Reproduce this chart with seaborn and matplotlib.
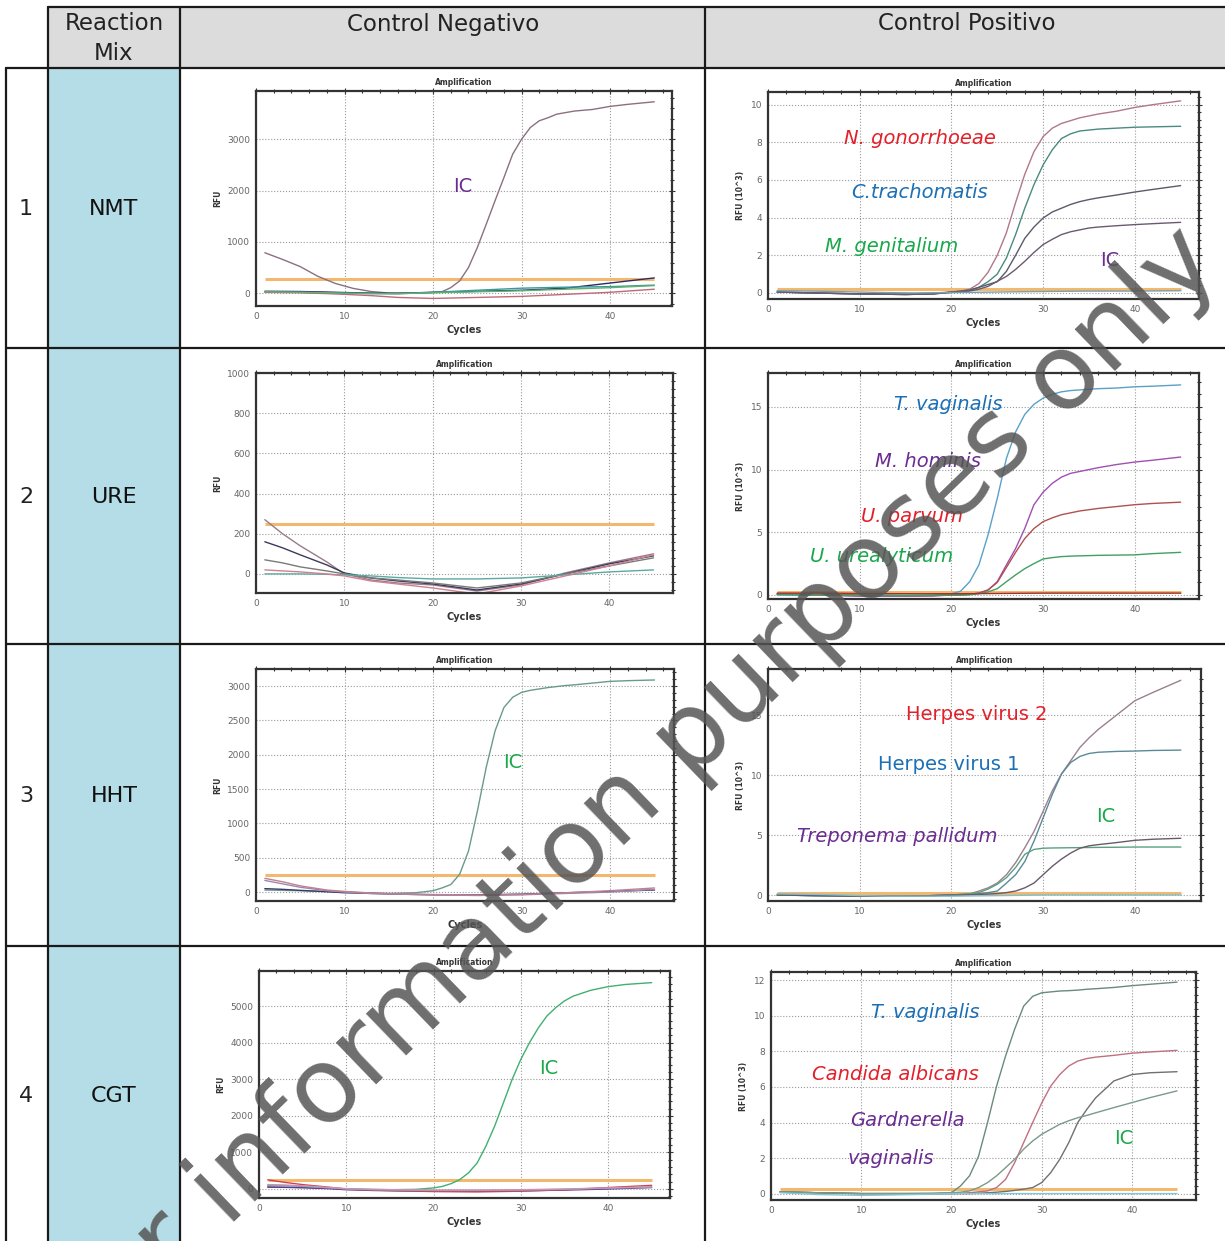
import matplotlib
matplotlib.use("Agg")
import matplotlib.pyplot as plt
from matplotlib.patches import Rectangle
from matplotlib.ticker import MultipleLocator, AutoMinorLocator
import pandas as pd
import seaborn as sns

# ---- data ----------------------------------------------------------------
# cycles for the amplifying curves and for the flat baseline curves
AMP_CYC = [1, 5, 10, 15, 18, 20, 21, 22, 23, 24, 25, 26, 27, 28, 29, 30,
           31, 32, 33, 34, 35, 36, 38, 40, 42, 45]
BASE_CYC = [1, 3, 5, 8, 10, 13, 16, 20, 25, 30, 35, 40, 45]

MIXES = ["NMT", "URE", "HHT", "CGT"]
ROW_NUMBERS = ["1", "2", "3", "4"]

# NMT negative control (RFU)
NMT_NEG_IC_CYC = [1, 3, 5, 7, 9, 11, 13, 15, 18, 20, 21, 22, 23, 24, 25, 26, 27, 28,
                  29, 30, 31, 32, 33, 34, 35, 36, 38, 40, 42, 45]
NMT_NEG_IC = [790, 660, 520, 330, 190, 95, 35, 5, 5, 15, 30, 110, 240, 500, 890, 1340,
              1800, 2250, 2710, 3000, 3230, 3360, 3420, 3490, 3520, 3550, 3580, 3640,
              3680, 3730]
NMT_NEG_B1 = [40, 38, 35, 25, 15, 5, 0, 20, 40, 60, 100, 200, 300]
NMT_NEG_B2 = [30, 25, 20, 10, 5, -5, -10, 20, 60, 100, 120, 130, 160]
NMT_NEG_B3 = [20, 15, 10, -5, -20, -45, -80, -100, -80, -60, -20, 20, 80]
NMT_NEG_B4 = [30, 25, 20, 10, 0, -5, -5, 10, 30, 50, 80, 110, 150]
NMT_NEG_THR = 270

# NMT positive control (RFU x 10^3)
NMT_POS_NG = [0.05, 0.0, -0.05, -0.05, 0.0, 0.05, 0.1, 0.2, 0.5, 1.1, 2.0, 3.2, 4.8,
              6.3, 7.5, 8.3, 8.75, 9.0, 9.15, 9.3, 9.4, 9.5, 9.65, 9.85, 10.0, 10.2]
NMT_POS_CT = [0.05, 0.0, -0.05, -0.08, -0.05, 0.05, 0.08, 0.15, 0.3, 0.6, 1.0, 1.86,
              3.1, 4.5, 5.75, 6.8, 7.6, 8.2, 8.45, 8.6, 8.65, 8.7, 8.75, 8.8, 8.82, 8.85]
NMT_POS_MG = [0.05, 0.0, -0.05, -0.08, -0.05, 0.05, 0.1, 0.15, 0.3, 0.45, 0.6, 1.15,
              2.0, 2.9, 3.5, 3.98, 4.3, 4.5, 4.7, 4.85, 4.96, 5.05, 5.2, 5.36, 5.5, 5.7]
NMT_POS_IC = [0.05, 0.0, -0.05, -0.08, -0.05, 0.03, 0.05, 0.1, 0.2, 0.35, 0.62, 0.88,
              1.25, 1.68, 2.15, 2.57, 2.85, 3.1, 3.25, 3.35, 3.45, 3.5, 3.57, 3.63, 3.68, 3.75]
NMT_POS_BASE = [0.12, 0.11, 0.1, 0.07, 0.05, 0.02, 0.0, 0.02, 0.05, 0.08, 0.1, 0.1, 0.12]
NMT_POS_THR = 0.23

# URE negative control (RFU)
URE_NEG_A = [270, 200, 140, 60, 0, -30, -45, -55, -85, -55, 5, 55, 100]
URE_NEG_B = [160, 130, 95, 45, 5, -20, -35, -50, -80, -50, 0, 50, 90]
URE_NEG_C = [70, 55, 35, 15, 0, -20, -30, -45, -70, -45, 0, 40, 80]
URE_NEG_D = [0, 0, 0, -2, -5, -10, -18, -25, -25, -20, -5, 10, 20]
URE_NEG_E = [20, 15, 10, 0, -10, -35, -50, -70, -100, -60, -10, 40, 95]
URE_NEG_THR = 248

# URE positive control (RFU x 10^3)
URE_POS_TV = [0.0, 0.0, 0.0, -0.02, 0.0, 0.1, 0.3, 1.06, 2.4, 4.8, 7.7, 10.9, 13.0,
              14.4, 15.2, 15.7, 16.0, 16.2, 16.3, 16.35, 16.4, 16.45, 16.5, 16.6, 16.65, 16.75]
URE_POS_MH = [0.05, 0.0, -0.1, -0.1, -0.08, 0.0, 0.0, 0.05, 0.15, 0.4, 1.06, 2.4, 3.7,
              5.3, 7.2, 8.2, 8.9, 9.4, 9.7, 9.85, 10.0, 10.15, 10.4, 10.6, 10.75, 11.0]
URE_POS_UP = [0.1, 0.05, 0.0, -0.05, -0.05, 0.0, 0.0, 0.05, 0.15, 0.4, 1.0, 2.2, 3.4,
              4.5, 5.3, 5.85, 6.15, 6.4, 6.55, 6.7, 6.8, 6.9, 7.05, 7.2, 7.3, 7.4]
URE_POS_UU = [0.05, 0.0, -0.05, -0.05, -0.03, 0.0, 0.0, 0.02, 0.1, 0.25, 0.5, 1.06, 1.6,
              2.1, 2.5, 2.87, 2.98, 3.06, 3.1, 3.12, 3.14, 3.16, 3.18, 3.2, 3.3, 3.4]
URE_POS_BASE = [0.15, 0.15, 0.15, 0.14, 0.12, 0.11, 0.1, 0.1, 0.12, 0.15, 0.15, 0.15, 0.15]
URE_POS_THR = 0.27

# HHT negative control (RFU)
HHT_NEG_IC = [30, 20, 0, -20, -10, 20, 60, 110, 260, 600, 1180, 1820, 2350, 2690,
              2840, 2910, 2940, 2960, 2980, 2995, 3010, 3020, 3045, 3070, 3080, 3090]
HHT_NEG_B1 = [50, 40, 25, 5, -10, -20, -30, -40, -40, -30, -10, 10, 30]
HHT_NEG_B2 = [170, 120, 70, 20, 0, -20, -30, -40, -50, -40, -20, 0, 40]
HHT_NEG_B3 = [200, 150, 90, 30, 10, -15, -25, -35, -45, -35, -10, 20, 60]
HHT_NEG_THR = 250

# HHT positive control (RFU x 10^3)
HHT_POS_HSV2 = [0.0, -0.05, -0.1, -0.1, -0.05, 0.0, 0.05, 0.1, 0.33, 0.6, 1.0, 1.7, 2.7,
                3.95, 5.3, 7.0, 8.7, 10.1, 11.2, 12.3, 13.1, 13.8, 15.0, 16.2, 16.9, 17.9]
HHT_POS_HSV1 = [0.0, -0.05, -0.1, -0.1, -0.05, 0.0, 0.0, 0.05, 0.1, 0.2, 0.33, 1.0, 1.7,
                2.8, 4.5, 6.45, 8.4, 10.1, 11.05, 11.55, 11.8, 11.9, 11.97, 12.0, 12.05, 12.08]
HHT_POS_IC = [0.0, -0.05, -0.1, -0.1, -0.05, 0.0, 0.05, 0.1, 0.2, 0.5, 0.9, 1.45, 2.3,
              3.4, 3.8, 3.9, 3.92, 3.93, 3.94, 3.95, 3.96, 3.97, 3.98, 4.0, 4.0, 4.0]
HHT_POS_TP = [0.0, -0.05, -0.1, -0.1, -0.05, 0.0, 0.0, 0.02, 0.05, 0.08, 0.12, 0.2, 0.33,
              0.6, 1.0, 1.7, 2.4, 3.0, 3.5, 3.9, 4.1, 4.2, 4.37, 4.56, 4.65, 4.73]
HHT_POS_BASE = [0.1, 0.08, 0.05, 0.0, -0.05, -0.1, -0.1, -0.1, -0.05, 0.0, 0.0, 0.0, 0.0]
HHT_POS_THR = 0.2

# CGT negative control (RFU)
CGT_NEG_IC = [60, 40, 0, -20, -10, 30, 70, 145, 255, 440, 710, 1170, 1715, 2350,
              2990, 3540, 4000, 4400, 4730, 4955, 5140, 5270, 5430, 5530, 5590, 5640]
CGT_NEG_B1 = [50, 45, 35, 10, -20, -40, -50, -60, -60, -50, -30, 0, 40]
CGT_NEG_B2 = [250, 180, 120, 50, 0, -30, -50, -70, -80, -60, -20, 40, 100]
CGT_NEG_B3 = [100, 90, 70, 30, 0, -20, -30, -40, -40, -30, -10, 20, 50]
CGT_NEG_B4 = [120, 110, 90, 40, 10, -10, -20, -30, -30, -20, 0, 30, 60]
CGT_NEG_THR = 255

# CGT positive control (RFU x 10^3)
CGT_POS_TV = [0.1, 0.05, 0.0, 0.0, 0.0, 0.05, 0.43, 1.0, 2.1, 4.0, 6.05, 7.75, 9.25,
              10.55, 11.1, 11.3, 11.35, 11.4, 11.42, 11.45, 11.5, 11.53, 11.6, 11.7, 11.78, 11.9]
CGT_POS_CA = [0.1, 0.05, 0.0, 0.0, 0.0, 0.0, 0.02, 0.05, 0.1, 0.15, 0.34, 0.8, 1.74,
              2.87, 4.0, 5.1, 6.05, 6.7, 7.18, 7.46, 7.6, 7.68, 7.78, 7.9, 7.97, 8.06]
CGT_POS_IC = [0.1, 0.05, 0.0, 0.0, 0.0, 0.0, 0.0, 0.0, 0.02, 0.05, 0.08, 0.12, 0.18,
              0.25, 0.34, 0.62, 1.18, 1.93, 2.87, 4.0, 4.74, 5.4, 6.34, 6.7, 6.8, 6.86]
CGT_POS_GV = [0.1, 0.05, 0.0, 0.0, 0.02, 0.05, 0.08, 0.15, 0.34, 0.62, 1.0, 1.46, 1.93,
              2.5, 2.96, 3.34, 3.62, 3.9, 4.1, 4.27, 4.4, 4.55, 4.84, 5.12, 5.4, 5.78]
CGT_POS_BASE = [0.05, 0.0, -0.05, -0.08, -0.1, -0.08, -0.05, 0.0, 0.0, 0.0, 0.0, 0.0, 0.0]
CGT_POS_THR = 0.24

# ---- layout ----------------------------------------------------------------
W, H = 1225, 1241
RED, BLUE, GREEN, PURPLE = "#e3202a", "#1a6fb5", "#19a84b", "#6b2c91"
THR_COLOR = "#f2b96e"

sns.set_style("white")
plt.rcParams["font.family"] = ["DejaVu Sans"]

fig = plt.figure(figsize=(W / 100, H / 100), dpi=100)


def fx(x):
    return x / W


def fy(y):
    return 1 - y / H


# table background
tab = fig.add_axes([0, 0, 1, 1], zorder=0)
tab.set_xlim(0, W)
tab.set_ylim(H, 0)
tab.axis("off")
tab.add_patch(Rectangle((48, 7), W - 48, 61, color="#dcdcdc", lw=0))
tab.add_patch(Rectangle((48, 68), 132, H - 68, color="#b5dde7", lw=0))
LC = "#1a1a1a"
tab.plot([48, W], [7, 7], color=LC, lw=1.6)
for yy in [68, 348, 644, 946]:
    tab.plot([6, W], [yy, yy], color=LC, lw=1.6)
tab.plot([6, 6], [68, H], color=LC, lw=1.6)
for xx in [48, 180, 705]:
    tab.plot([xx, xx], [7, H], color=LC, lw=1.6)

HEAD = dict(fontsize=16.5, color="#222222", ha="center", va="center")
fig.text(fx(114), fy(24), "Reaction", **HEAD)
fig.text(fx(114), fy(53), "Mix", **HEAD)
fig.text(fx(443), fy(24), "Control Negativo", **HEAD)
fig.text(fx(967), fy(24), "Control Positivo", **HEAD)

ROW_Y = [209, 497, 796, 1096]
for num, mix, yy in zip(ROW_NUMBERS, MIXES, ROW_Y):
    fig.text(fx(26), fy(yy), num, fontsize=16, color="#222222", ha="center", va="center")
    fig.text(fx(114), fy(yy), mix, fontsize=16, color="#111111", ha="center", va="center")


def panel(box, lims, ystep, curves, thr, ylabel):
    l, t, r, b = box
    ax = fig.add_axes([fx(l), fy(b), (r - l) / W, (b - t) / H], zorder=1)
    rows = []
    palette = {}
    for name, (cyc, vals, col) in curves.items():
        palette[name] = col
        for c, v in zip(cyc, vals):
            rows.append({"cycle": c, "rfu": v, "curve": name})
    df = pd.DataFrame(rows)
    sns.lineplot(data=df, x="cycle", y="rfu", hue="curve", palette=palette,
                 estimator=None, sort=False, legend=False, lw=1.0, ax=ax)
    ax.hlines(thr, 1, 45, color=THR_COLOR, lw=2.2, zorder=1.5)
    ax.set_xlim(lims[0], lims[1])
    ax.set_ylim(lims[2], lims[3])
    ax.set_xticks([0, 10, 20, 30, 40])
    top = lims[3]
    ticks = []
    v = 0
    while v <= top + 1e-9:
        ticks.append(v)
        v += ystep
    ax.set_yticks(ticks)
    ax.xaxis.set_minor_locator(MultipleLocator(2))
    ax.yaxis.set_minor_locator(AutoMinorLocator(5))
    ax.tick_params(which="both", direction="inout", top=True, right=True,
                   color="#333333", width=0.8, labelsize=6.5, labelcolor="#666666", pad=2)
    ax.tick_params(which="major", length=4)
    ax.tick_params(which="minor", length=2.5)
    ax.grid(True, which="major", ls=":", color="#9a9a9a", lw=0.8)
    for sp in ax.spines.values():
        sp.set_color("#333333")
        sp.set_linewidth(1.6)
    ax.set_title("Amplification", fontsize=5.5, fontweight="bold", color="#333333", pad=4)
    ax.set_xlabel("Cycles", fontsize=7, fontweight="bold", color="#333333", labelpad=3)
    ax.set_ylabel(ylabel, fontsize=5.5, fontweight="bold", color="#333333", labelpad=4)
    return ax


panel((256, 91, 672, 306), (0, 47, -247, 3940), 1000, {
    "ic": (NMT_NEG_IC_CYC, NMT_NEG_IC, "#8a7080"),
    "b1": (BASE_CYC, NMT_NEG_B1, "#2a2a6a"),
    "b2": (BASE_CYC, NMT_NEG_B2, "#3a9a9a"),
    "b3": (BASE_CYC, NMT_NEG_B3, "#c06878"),
    "b4": (BASE_CYC, NMT_NEG_B4, "#60b070"),
}, NMT_NEG_THR, "RFU")

panel((768, 92, 1199, 299), (0, 47, -0.32, 10.67), 2, {
    "ng": (AMP_CYC, NMT_POS_NG, "#b07888"),
    "ct": (AMP_CYC, NMT_POS_CT, "#4a8a80"),
    "mg": (AMP_CYC, NMT_POS_MG, "#5a5a6a"),
    "ic": (AMP_CYC, NMT_POS_IC, "#6a5a70"),
    "b": (BASE_CYC, NMT_POS_BASE, "#7aa0b0"),
}, NMT_POS_THR, "RFU (10^3)")

panel((256, 373, 673, 593), (0, 47.2, -95, 1000), 200, {
    "a": (BASE_CYC, URE_NEG_A, "#9a7a8a"),
    "b": (BASE_CYC, URE_NEG_B, "#3a3a5a"),
    "c": (BASE_CYC, URE_NEG_C, "#7a7a7a"),
    "d": (BASE_CYC, URE_NEG_D, "#5aaaa0"),
    "e": (BASE_CYC, URE_NEG_E, "#d08090"),
}, URE_NEG_THR, "RFU")

panel((768, 373, 1199, 599), (0, 47, -0.32, 17.7), 5, {
    "tv": (AMP_CYC, URE_POS_TV, "#5aa0c8"),
    "mh": (AMP_CYC, URE_POS_MH, "#a050b0"),
    "up": (AMP_CYC, URE_POS_UP, "#b05050"),
    "uu": (AMP_CYC, URE_POS_UU, "#40a060"),
    "b": (BASE_CYC, URE_POS_BASE, "#a03030"),
}, URE_POS_THR, "RFU (10^3)")

panel((256, 669, 674, 901), (0, 47.2, -130, 3250), 500, {
    "ic": (AMP_CYC, HHT_NEG_IC, "#6a9a8a"),
    "b1": (BASE_CYC, HHT_NEG_B1, "#3a3a6a"),
    "b2": (BASE_CYC, HHT_NEG_B2, "#9a8ab0"),
    "b3": (BASE_CYC, HHT_NEG_B3, "#c08090"),
}, HHT_NEG_THR, "RFU")

panel((768, 669, 1201, 901), (0, 47.2, -0.5, 18.84), 5, {
    "hsv2": (AMP_CYC, HHT_POS_HSV2, "#9a8090"),
    "hsv1": (AMP_CYC, HHT_POS_HSV1, "#5a8a98"),
    "ic": (AMP_CYC, HHT_POS_IC, "#5aa080"),
    "tp": (AMP_CYC, HHT_POS_TP, "#6a5a6a"),
    "b": (BASE_CYC, HHT_POS_BASE, "#80c0d0"),
}, HHT_POS_THR, "RFU (10^3)")

panel((259, 971, 670, 1198), (0, 47.1, -246, 5958), 1000, {
    "ic": (AMP_CYC, CGT_NEG_IC, "#40b070"),
    "b1": (BASE_CYC, CGT_NEG_B1, "#7a2a8a"),
    "b2": (BASE_CYC, CGT_NEG_B2, "#d04050"),
    "b3": (BASE_CYC, CGT_NEG_B3, "#50b0c0"),
    "b4": (BASE_CYC, CGT_NEG_B4, "#d090b0"),
}, CGT_NEG_THR, "RFU")

panel((771, 972, 1196, 1200), (0, 47.1, -0.36, 12.47), 2, {
    "tv": (AMP_CYC, CGT_POS_TV, "#6a8a7a"),
    "ca": (AMP_CYC, CGT_POS_CA, "#c07080"),
    "ic": (AMP_CYC, CGT_POS_IC, "#707070"),
    "gv": (AMP_CYC, CGT_POS_GV, "#7a9a8a"),
    "b": (BASE_CYC, CGT_POS_BASE, "#80c8d8"),
}, CGT_POS_THR, "RFU (10^3)")

# curve labels
LABELS = [
    (463, 187, "IC", PURPLE, "normal"),
    (920, 138, "N. gonorrhoeae", RED, "italic"),
    (920, 192, "C.trachomatis", BLUE, "italic"),
    (892, 247, "M. genitalium", GREEN, "italic"),
    (1110, 261, "IC", PURPLE, "normal"),
    (948, 404, "T. vaginalis", BLUE, "italic"),
    (928, 462, "M. hominis", PURPLE, "italic"),
    (912, 516, "U. parvum", RED, "italic"),
    (882, 556, "U. urealyticum", GREEN, "italic"),
    (513, 763, "IC", GREEN, "normal"),
    (977, 715, "Herpes virus 2", RED, "normal"),
    (949, 764, "Herpes virus 1", BLUE, "normal"),
    (897, 837, "Treponema pallidum", PURPLE, "italic"),
    (1106, 816, "IC", GREEN, "normal"),
    (549, 1068, "IC", GREEN, "normal"),
    (925, 1012, "T. vaginalis", BLUE, "italic"),
    (895, 1075, "Candida albicans", RED, "italic"),
    (907, 1120, "Gardnerella", PURPLE, "italic"),
    (891, 1159, "vaginalis", PURPLE, "italic"),
    (1124, 1139, "IC", GREEN, "normal"),
]
for x, y, s, c, st in LABELS:
    fig.text(fx(x), fy(y), s, color=c, fontsize=14, style=st, ha="center", va="center", zorder=5)

# watermark (runs off the bottom-left corner as in the source)
fig.text(fx(634), fy(796), "For information purposes only", fontsize=76, color="#555555",
         alpha=0.85, rotation=44, rotation_mode="anchor", ha="center", va="center", zorder=20)

fig.savefig("out.png", dpi=100)
